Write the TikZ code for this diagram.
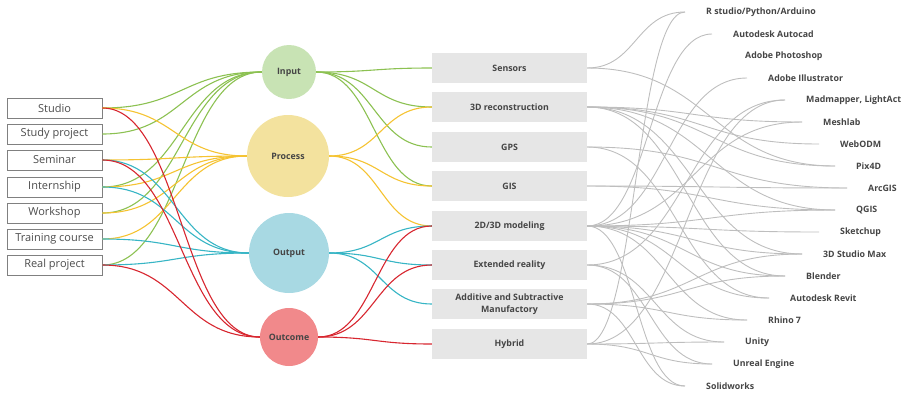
\documentclass[tikz,border=0pt]{standalone}
\usepackage{fontspec}
\setmainfont{Open Sans}
\usetikzlibrary{calc}
\definecolor{cIn}{HTML}{C8E3B4}
\definecolor{cPr}{HTML}{F3E29E}
\definecolor{cOu}{HTML}{A8D9E3}
\definecolor{cOc}{HTML}{F1898B}
\definecolor{lGr}{HTML}{8CC152}
\definecolor{lYe}{HTML}{F5C332}
\definecolor{lCy}{HTML}{37B5C5}
\definecolor{lRe}{HTML}{D7262F}
\definecolor{lGy}{HTML}{BEBEBE}
\definecolor{txt}{HTML}{454545}
\definecolor{boxfill}{HTML}{E6E6E6}
\newcommand\lnk[3]{%
  \coordinate (lnkm) at ($(#1)!.5!(#2)$);
  \draw[#3] (#1) .. controls (lnkm |- #1) and (lnkm |- #2) .. (#2);}
\begin{document}
\begin{tikzpicture}[x=1pt,y=-1pt,
  lbox/.style={draw=black!50,line width=.8pt,fill=white,minimum width=95pt,minimum height=20pt,inner sep=0pt,text=black!70,font=\fontsize{11}{13}\selectfont},
  circ/.style={circle,inner sep=0pt,text=txt,font=\bfseries\fontsize{8.8}{11}\selectfont},
  mbox/.style={fill=boxfill,minimum width=155pt,minimum height=30pt,inner sep=0pt,align=center,text=txt,font=\bfseries\fontsize{8.8}{12.3}\selectfont},
  sw/.style={anchor=west,inner sep=0pt,xshift=21pt,text=txt,font=\bfseries\fontsize{8.8}{11}\selectfont},
  gl/.style={lGr,line width=1.1pt},
  yl/.style={lYe,line width=1.1pt},
  cl/.style={lCy,line width=1.1pt},
  rl/.style={lRe,line width=1.1pt},
  gy/.style={lGy,line width=.9pt}]
\useasboundingbox (0,0) rectangle (903,392);
% left boxes
\node[lbox] (studio) at (54.5,108) {Studio};
\node[lbox] (study) at (54.5,134) {Study project};
\node[lbox] (seminar) at (54.5,160) {Seminar};
\node[lbox] (intern) at (54.5,187) {Internship};
\node[lbox] (workshop) at (54.5,213) {Workshop};
\node[lbox] (training) at (54.5,239) {Training course};
\node[lbox] (real) at (54.5,265) {Real project};
% circles
\node[circ,fill=cIn,minimum size=54pt] (input) at (289,72) {Input};
\node[circ,fill=cPr,minimum size=82pt] (process) at (288,156) {Process};
\node[circ,fill=cOu,minimum size=80pt] (output) at (289,253) {Output};
\node[circ,fill=cOc,minimum size=58pt] (outcome) at (289,337) {Outcome};
% middle boxes
\node[mbox] (sensors) at (509.5,68) {Sensors};
\node[mbox] (recon) at (509.5,107) {3D reconstruction};
\node[mbox] (gps) at (509.5,147) {GPS};
\node[mbox] (gis) at (509.5,186) {GIS};
\node[mbox] (model) at (509.5,226) {2D/3D modeling};
\node[mbox] (xr) at (509.5,265) {Extended reality};
\node[mbox] (add) at (509.5,304) {Additive and Subtractive\\Manufactory};
\node[mbox] (hybrid) at (509.5,344) {Hybrid};
% software end points and labels
\coordinate (e1) at (685,12);   \node[sw] (t1) at (e1) {R studio/Python/Arduino};
\coordinate (e2) at (712,34);   \node[sw] (t2) at (e2) {Autodesk Autocad};
\coordinate (e3) at (724,56);   \node[sw] (t3) at (e3) {Adobe Photoshop};
\coordinate (e4) at (747,78);   \node[sw] (t4) at (e4) {Adobe Illustrator};
\coordinate (e5) at (785,100);  \node[sw] (t5) at (e5) {Madmapper, LightAct};
\coordinate (e6) at (802,122);  \node[sw] (t6) at (e6) {Meshlab};
\coordinate (e7) at (819,144);  \node[sw] (t7) at (e7) {WebODM};
\coordinate (e8) at (835,166);  \node[sw] (t8) at (e8) {Pix4D};
\coordinate (e9) at (847,188);  \node[sw] (t9) at (e9) {ArcGIS};
\coordinate (e10) at (835,210); \node[sw] (t10) at (e10) {QGIS};
\coordinate (e11) at (819,232); \node[sw] (t11) at (e11) {Sketchup};
\coordinate (e12) at (802,254); \node[sw] (t12) at (e12) {3D Studio Max};
\coordinate (e13) at (785,276); \node[sw] (t13) at (e13) {Blender};
\coordinate (e14) at (769,298); \node[sw] (t14) at (e14) {Autodesk Revit};
\coordinate (e15) at (747,320); \node[sw] (t15) at (e15) {Rhino 7};
\coordinate (e16) at (724,342); \node[sw] (t16) at (e16) {Unity};
\coordinate (e17) at (712,364); \node[sw] (t17) at (e17) {Unreal Engine};
\coordinate (e18) at (685,386); \node[sw] (t18) at (e18) {Solidworks};
% gray links
\foreach \s/\t in {sensors/e1,sensors/e8,
  recon/e6,recon/e7,recon/e8,recon/e10,recon/e12,recon/e13,
  gps/e9,gps/e14,gis/e9,gis/e10,
  model/e2,model/e4,model/e6,model/e10,model/e11,model/e12,model/e13,model/e14,model/e15,model/e18,
  xr/e5,xr/e16,xr/e17,
  add/e12,add/e13,add/e15,add/e18,
  hybrid/e1,hybrid/e5,hybrid/e16,hybrid/e17}
  {\lnk{\s.east}{\t}{gy}}
% left to circles
\foreach \s in {studio,study,intern,workshop,real} {\lnk{\s.east}{input.west}{gl}}
\foreach \s in {studio,seminar,intern,workshop,training} {\lnk{\s.east}{process.west}{yl}}
\foreach \s in {seminar,intern,training,real} {\lnk{\s.east}{output.west}{cl}}
\foreach \s in {studio,seminar,real} {\lnk{\s.east}{outcome.west}{rl}}
% circles to middle
\foreach \t in {sensors,recon,gps,gis} {\lnk{input.east}{\t.west}{gl}}
\foreach \t in {recon,gis,model} {\lnk{process.east}{\t.west}{yl}}
\foreach \t in {model,xr,add} {\lnk{output.east}{\t.west}{cl}}
\foreach \t in {model,xr,hybrid} {\lnk{outcome.east}{\t.west}{rl}}
\end{tikzpicture}
\end{document}
